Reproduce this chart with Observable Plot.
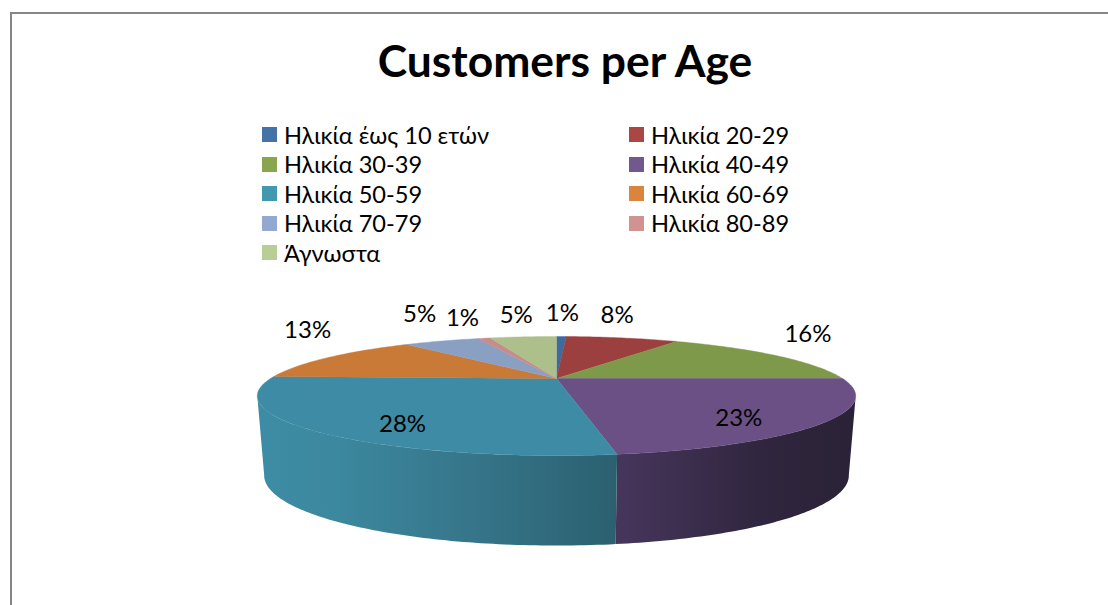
<!DOCTYPE html>
<html><head><meta charset="utf-8">
<script src="https://cdn.jsdelivr.net/npm/d3@7"></script>
<script src="https://cdn.jsdelivr.net/npm/@observablehq/plot@0.6"></script>
<style>
html,body{margin:0;padding:0;background:#fff;overflow:hidden;width:1108px;height:605px}
body{position:relative;font-family:Lato,"Noto Sans",sans-serif;color:#000}
#frame{position:absolute;left:10px;top:12px;width:1200px;height:700px;border-left:2px solid #868686;border-top:2px solid #868686;box-sizing:border-box;pointer-events:none}
#title{position:relative;height:120px;line-height:120px;text-align:center;font-size:44.4px;font-weight:700;padding-left:22px;box-sizing:border-box}
#legend{position:relative;display:grid;grid-template-columns:367px 367px;grid-auto-rows:29.5px;margin-left:262px;height:148px;font-size:23.6px}
#legend div{display:flex;align-items:center;white-space:nowrap}
#legend i{display:inline-block;width:15px;height:15px;margin-right:7px;flex:none}
svg{display:block;position:relative}
</style></head><body>
<div id="frame"></div>
<div id="title">Customers per Age</div>
<div id="legend"></div>
<div id="chart"></div>
<script>
const categories = ["Ηλικία έως 10 ετών","Ηλικία 20-29","Ηλικία 30-39","Ηλικία 40-49","Ηλικία 50-59","Ηλικία 60-69","Ηλικία 70-79","Ηλικία 80-89","Άγνωστα"];
const shares = [0.7, 8.1, 16.2, 22.6, 28.0, 13.3, 5.4, 0.9, 4.8];
const legendColors = ["#4572A7","#AA4643","#89A54E","#71588F","#4198AF","#DB843D","#93A9CF","#D19392","#B9CD96"];
const faceColors = ["#3f6a9e","#9b403e","#7f994a","#6a5085","#3d8ba4","#c97a37","#8aa0c2","#c78c8a","#adbf8a"];
// label offsets from each slice's rim midpoint (layout only)
const labelDx = [1,-5,33,-86,90,-21.5,-22,-21.5,-7];
const labelDy = [-23,-23,-21,-4,-6,-27,-26.5,-20,-22];

const legend = document.getElementById("legend");
categories.forEach((c,i)=>{
  const d=document.createElement("div");
  const s=document.createElement("i"); s.style.background=legendColors[i];
  d.append(s,document.createTextNode(c)); legend.append(d);
});

// Perspective-projected pie
const k=0.294;
const cx=556;
const topRim={R:286,A:54.4,cy:378};
const botRim={R:279.4,A:64,cy:454.4};
const project=(pct,rim,r=1)=>{
  const t=pct/100*2*Math.PI, u=r*Math.sin(t), v=r*Math.cos(t), den=1+k*v;
  return {x:cx+rim.R*u/den, y:rim.cy-rim.A*v/den};
};
const arc=(a,b,rim)=>{
  const n=Math.max(2,Math.ceil(Math.abs(b-a)*4));
  return d3.range(n+1).map(i=>project(a+(b-a)*i/n,rim));
};
let acc=0;
const slices=shares.map((v,i)=>{const s={i,start:acc,end:acc+v,mid:acc+v/2,v};acc+=v;return s;});
const wallFrom=29.7, wallTo=70.3; // silhouette tangents of the projected rim

const marks=[];
marks.push(()=>{
  const defs=d3.create("svg:defs");
  const grad=(id,stops)=>{
    const g=defs.append("linearGradient").attr("id",id).attr("x1",0).attr("x2",1).attr("y1",0).attr("y2",0);
    stops.forEach(([o,c])=>g.append("stop").attr("offset",o).attr("stop-color",c));
  };
  grad("wallTeal",[[0,"#3d8ca5"],[0.2,"#3c899f"],[0.6,"#36758a"],[1,"#2b606f"]]);
  grad("wallPurple",[[0,"#47365c"],[0.6,"#30263f"],[1,"#2a2236"]]);
  return defs.node();
});
[[3,"url(#wallPurple)"],[4,"url(#wallTeal)"]].forEach(([i,fill])=>{
  const s=slices[i];
  const a=Math.max(s.start,wallFrom), b=Math.min(s.end,wallTo);
  const pts=[...arc(a,b,topRim),...arc(b,a,botRim)];
  pts.push(pts[0]);
  marks.push(Plot.line(pts,{x:"x",y:"y",fill,stroke:"none",curve:"linear"}));
});
slices.forEach(s=>{
  const pts=[project(0,topRim,0),...arc(s.start,s.end,topRim),project(0,topRim,0)];
  marks.push(Plot.line(pts,{x:"x",y:"y",fill:faceColors[s.i],stroke:faceColors[s.i],strokeWidth:0.4,curve:"linear"}));
});
marks.push(Plot.text(slices,{
  x:s=>project(s.mid,topRim).x+labelDx[s.i],
  y:s=>project(s.mid,topRim).y+labelDy[s.i],
  text:s=>`${Math.round(s.v)}%`,
  fontSize:24,fill:"#000",textAnchor:"middle",lineAnchor:"middle"
}));

const top0=268;
const plot=Plot.plot({
  width:1108,height:605-top0,
  marginTop:0,marginRight:0,marginBottom:0,marginLeft:0,
  x:{domain:[0,1108],range:[0,1108],axis:null},
  y:{domain:[top0,605],range:[0,605-top0],axis:null},
  style:{background:"transparent",fontFamily:'Lato,"Noto Sans",sans-serif'},
  marks
});
document.getElementById("chart").append(plot);
</script>
</body></html>
